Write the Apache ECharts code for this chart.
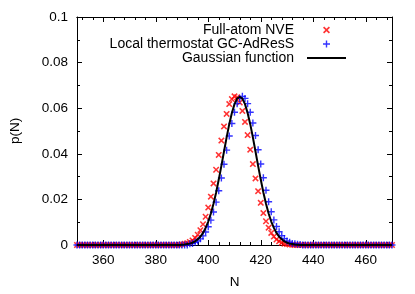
<!DOCTYPE html>
<html>
<head>
<meta charset="utf-8">
<script src="https://cdn.jsdelivr.net/npm/echarts@6/dist/echarts.min.js"></script>
<style>html,body{margin:0;padding:0;background:#fff;}#c{width:415px;height:294px;}</style>
</head>
<body>
<div id="c"></div>
<script>
var N = [350,351,352,353,354,355,356,357,358,359,360,361,362,363,364,365,366,367,368,369,
370,371,372,373,374,375,376,377,378,379,380,381,382,383,384,385,386,387,388,389,
390,391,392,393,394,395,396,397,398,399,400,401,402,403,404,405,406,407,408,409,
410,411,412,413,414,415,416,417,418,419,420,421,422,423,424,425,426,427,428,429,
430,431,432,433,434,435,436,437,438,439,440,441,442,443,444,445,446,447,448,449,
450,451,452,453,454,455,456,457,458,459,460,461,462,463,464,465,466,467,468,469,470];

var fullAtomNVE = [0,0,0,0,0,0,0,0,0,0,0,0,0,0,0,0,0,0,0,0,
0,0,0,0,0,0,0,0,0,0,0,0,0,0,0,0,0,0,0,0,
0.0003,0.0005,0.0008,0.0013,0.0020,0.0031,0.0045,0.0065,0.0091,0.0124,
0.0164,0.0212,0.0270,0.0330,0.0395,0.0458,0.0520,0.0575,0.0618,0.0640,
0.0652,0.0648,0.0625,0.0588,0.0540,0.0482,0.0418,0.0355,0.0292,0.0236,
0.0185,0.0140,0.0104,0.0076,0.0053,0.0037,0.0024,0.0016,0.0010,0.0006,
0.0004,0.0002,0.0001,
0,0,0,0,0,0,0,0,0,0,0,0,0,0,0,0,0,0,0,0,0,0,0,0,0,0,0,0,0,0,0,0,0,0,0,0,0,0];

var localThermostat = [0,0,0,0,0,0,0,0,0,0,0,0,0,0,0,0,0,0,0,0,
0,0,0,0,0,0,0,0,0,0,0,0,0,0,0,0,0,0,0,0,0,0,0,
0.0005,0.0007,0.0012,0.0018,0.0027,0.0040,0.0057,0.0080,0.0109,0.0145,
0.0188,0.0238,0.0294,0.0354,0.0416,0.0478,0.0533,0.0582,0.0620,0.0643,
0.0652,0.0643,0.0620,0.0582,0.0535,0.0480,0.0418,0.0355,0.0295,0.0240,
0.0190,0.0146,0.0110,0.0081,0.0058,0.0041,0.0028,0.0018,0.0012,0.0007,
0.0005,0.0003,0.0002,
0,0,0,0,0,0,0,0,0,0,0,0,0,0,0,0,0,0,0,0,0,0,0,0,0,0,0,0,0,0,0,0,0,0,0];

var gaussian = [0,0,0,0,0,0,0,0,0,0,0,0,0,0,0,0,0,0,0,0,
0,0,0,0,0,0,0,0,0,0,0,0,0,0,0,0,0,0,0,0,
0.0001,0.0002,0.0004,0.0006,0.0010,0.0016,0.0025,0.0036,0.0053,0.0075,
0.0103,0.0138,0.0181,0.0230,0.0287,0.0347,0.0410,0.0472,0.0530,0.0579,
0.0618,0.0642,0.0650,0.0642,0.0618,0.0579,0.0530,0.0472,0.0410,0.0347,
0.0287,0.0230,0.0181,0.0138,0.0103,0.0075,0.0053,0.0036,0.0025,0.0016,
0.0010,0.0006,0.0004,0.0002,0.0001,
0,0,0,0,0,0,0,0,0,0,0,0,0,0,0,0,0,0,0,0,0,0,0,0,0,0,0,0,0,0,0,0,0,0,0,0];

var xMajorTicks = [360, 380, 400, 420, 440, 460];
var xMinorTicks = [352,356,364,368,372,376,384,388,392,396,404,408,412,416,424,428,432,436,444,448,452,456,464,468];

var seriesNames = ['Full-atom NVE', 'Local thermostat GC-AdResS', 'Gaussian function'];

var crossPath = 'path://M0.566,-0.849 L0.849,-0.566 L0.283,0 L0.849,0.566 L0.566,0.849 L0,0.283 L-0.566,0.849 L-0.849,0.566 L-0.283,0 L-0.849,-0.566 L-0.566,-0.849 L0,-0.283 Z';
var plusPath = 'path://M-0.2,-1 L0.2,-1 L0.2,-0.2 L1,-0.2 L1,0.2 L0.2,0.2 L0.2,1 L-0.2,1 L-0.2,0.2 L-1,0.2 L-1,-0.2 L-0.2,-0.2 Z';
var linePath = 'path://M0,0 L39,0 L39,2 L0,2 Z';

function pairs(vals) { return N.map(function (n, i) { return [n, vals[i]]; }); }

var FONT = '"Liberation Sans", Arial, Helvetica, sans-serif';
function xAx(pos, labels, ticks, len) {
  return {
    type: 'value', min: 350, max: 470, position: pos,
    axisLine: { show: true, lineStyle: { color: '#000', width: 1 } },
    axisTick: { show: true, inside: true, length: len, customValues: ticks, lineStyle: { color: '#000' } },
    minorTick: { show: false },
    splitLine: { show: false },
    axisLabel: { show: labels, customValues: ticks, margin: 8, fontSize: 13.5, color: '#000', fontFamily: FONT },
    name: labels ? 'N' : '', nameLocation: 'middle', nameGap: 30,
    nameTextStyle: { fontSize: 13.5, color: '#000', fontFamily: FONT }
  };
}
function yAx(pos, labels) {
  return {
    type: 'value', min: 0, max: 0.1, interval: 0.02, position: pos,
    axisLine: { show: true, lineStyle: { color: '#000', width: 1 } },
    axisTick: { show: true, inside: true, length: 5, lineStyle: { color: '#000' } },
    minorTick: { show: true, splitNumber: 2, length: 3, lineStyle: { color: '#000' } },
    splitLine: { show: false },
    axisLabel: { show: labels, margin: 9, fontSize: 13.5, color: '#000', fontFamily: FONT },
    name: labels ? 'p(N)' : '', nameLocation: 'middle', nameGap: 55,
    nameTextStyle: { fontSize: 13.5, color: '#000', fontFamily: FONT }
  };
}

var chart = echarts.init(document.getElementById('c'), null, { renderer: 'canvas' });
chart.setOption({
  animation: false,
  backgroundColor: '#fff',
  grid: { left: 76, right: 23, top: 17, bottom: 45, containLabel: false },
  xAxis: [
    xAx('bottom', true, xMajorTicks, 5),
    xAx('bottom', false, xMinorTicks, 3),
    xAx('top', false, xMajorTicks, 5),
    xAx('top', false, xMinorTicks, 3)
  ],
  yAxis: [yAx('left', true), yAx('right', false)],
  legend: {
    orient: 'vertical', right: 64, top: 18, align: 'right',
    itemWidth: 39, itemHeight: 7, itemGap: 0,
    textStyle: { fontSize: 14, lineHeight: 14, color: '#000', fontFamily: FONT, padding: [0, 8, 0, 0] },
    data: [
      { name: seriesNames[0] },
      { name: seriesNames[1] },
      { name: seriesNames[2], icon: linePath }
    ]
  },
  series: [
    { name: seriesNames[0], type: 'scatter', data: pairs(fullAtomNVE), symbol: crossPath, symbolSize: 6.5,
      itemStyle: { color: '#ff0000' }, z: 2 },
    { name: seriesNames[1], type: 'scatter', data: pairs(localThermostat), symbol: plusPath, symbolSize: 7,
      itemStyle: { color: '#0000ff' }, z: 3 },
    { name: seriesNames[2], type: 'line', data: pairs(gaussian), symbol: 'none', showSymbol: false,
      lineStyle: { color: '#000', width: 2 }, itemStyle: { color: '#000' }, z: 4 }
  ]
});
</script>
</body>
</html>
